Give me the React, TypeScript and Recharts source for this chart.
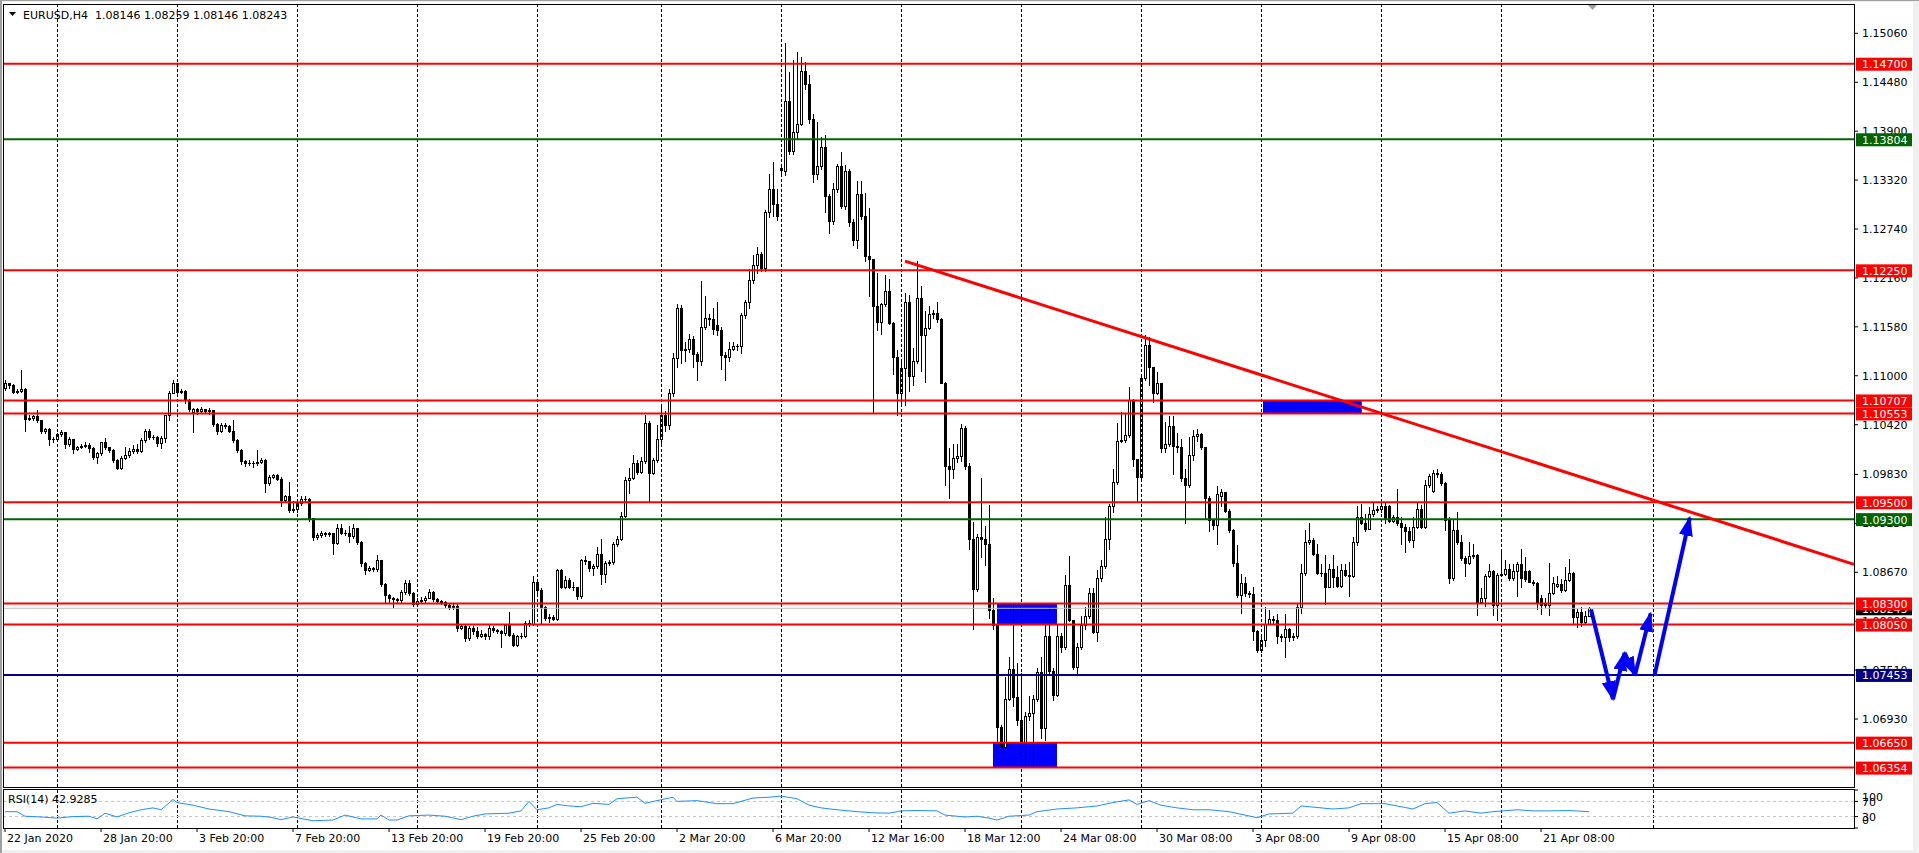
import React from 'react';
import { ComposedChart, Bar, Line, XAxis, YAxis, ReferenceLine, ReferenceArea } from 'recharts';

const FONT = "'DejaVu Sans', Tahoma, sans-serif";

// EURUSD H4 bars, prices kept as pips above 1.00000
const opens = [
  1085, 1091, 1089, 1081, 1082, 1084, 1049, 1050, 1052, 1047, 1034, 1037, 1025, 1025, 1031, 1033, 1019, 1025, 1013, 1015,
  1017, 1018, 1014, 1004, 1008, 1021, 1015, 1012, 1000, 991, 1003, 1006, 1011, 1013, 1011, 1024, 1035, 1027, 1027, 1020,
  1026, 1053, 1080, 1091, 1081, 1082, 1071, 1057, 1061, 1058, 1060, 1058, 1059, 1043, 1035, 1042, 1041, 1035, 1024, 1012,
  999, 996, 997, 997, 998, 1000, 973, 980, 982, 978, 953, 957, 941, 942, 949, 954, 954, 931, 909, 911,
  914, 912, 913, 902, 920, 914, 914, 910, 919, 903, 878, 870, 872, 871, 881, 853, 840, 837, 835, 834,
  844, 854, 843, 829, 833, 834, 836, 844, 835, 833, 832, 828, 826, 827, 801, 803, 789, 801, 797, 792,
  794, 791, 801, 799, 797, 795, 804, 793, 781, 791, 792, 807, 806, 856, 846, 826, 813, 814, 812, 870,
  850, 858, 850, 849, 839, 881, 880, 872, 874, 889, 865, 878, 879, 900, 906, 934, 976, 979, 996, 986,
  999, 1044, 985, 1000, 1025, 1054, 1042, 1079, 1121, 1180, 1130, 1132, 1144, 1126, 1118, 1158, 1169, 1167, 1160, 1154,
  1125, 1122, 1132, 1135, 1135, 1172, 1187, 1214, 1231, 1244, 1228, 1294, 1322, 1304, 1344, 1343, 1426, 1367, 1389, 1399,
  1461, 1446, 1405, 1339, 1349, 1371, 1313, 1284, 1321, 1349, 1301, 1343, 1282, 1261, 1316, 1290, 1242, 1238, 1183, 1164,
  1185, 1201, 1163, 1122, 1079, 1109, 1187, 1100, 1117, 1192, 1148, 1157, 1173, 1174, 1167, 1092, 993, 990, 1003, 1005, 1038,
  993, 907, 847, 909, 907, 900, 822, 804, 684, 660, 717, 752, 719, 692, 665, 697, 700, 717, 749, 682, 792,
  750, 721, 792, 778, 852, 811, 755, 778, 804, 815, 843, 796, 860, 874, 906, 945, 974, 1023, 1024, 1030,
  1071, 1001, 980, 1097, 1136, 1110, 1080, 1091, 1014, 1019, 1041, 1017, 1015, 979, 971, 1006, 1028, 1031, 1015, 955,
  929, 923, 958, 962, 940, 917, 878, 840, 854, 842, 841, 797, 775, 787, 806, 812, 810, 792, 790, 800,
  790, 792, 826, 866, 903, 905, 889, 866, 866, 850, 871, 861, 851, 870, 864, 863, 903, 933, 926, 918,
  936, 941, 942, 945, 946, 928, 933, 925, 921, 916, 905, 921, 942, 921, 970, 963, 985, 983, 973, 929, 860,
  917, 903, 884, 878, 886, 887, 832, 837, 862, 869, 828, 864, 865, 871, 860, 869, 877, 869, 869, 856,
  854, 836, 828, 828, 843, 851, 853, 846, 858, 866, 814, 820, 808, 814.6,
];
const closes = [
  1091, 1089, 1081, 1082, 1084, 1049, 1050, 1052, 1047, 1034, 1037, 1025, 1025, 1031, 1033, 1019, 1025, 1013, 1015, 1017,
  1018, 1014, 1004, 1008, 1021, 1015, 1012, 1000, 991, 1003, 1006, 1011, 1013, 1011, 1024, 1035, 1027, 1027, 1020, 1026,
  1053, 1080, 1091, 1081, 1082, 1071, 1061, 1061, 1058, 1060, 1058, 1059, 1043, 1035, 1042, 1041, 1035, 1024, 1012, 999,
  996, 997, 997, 998, 1000, 973, 980, 982, 978, 953, 957, 941, 942, 949, 954, 954, 931, 909, 911, 914,
  912, 913, 902, 920, 914, 914, 910, 919, 903, 878, 870, 872, 871, 881, 853, 840, 837, 835, 834, 844,
  854, 843, 829, 833, 834, 836, 844, 835, 833, 832, 828, 826, 827, 801, 803, 789, 801, 797, 792, 794,
  791, 801, 799, 797, 795, 804, 793, 781, 791, 792, 807, 806, 856, 846, 826, 813, 814, 812, 870, 850,
  858, 850, 849, 839, 881, 880, 872, 874, 889, 865, 878, 879, 900, 906, 934, 976, 979, 996, 986, 999,
  1044, 985, 1000, 1025, 1054, 1042, 1079, 1121, 1180, 1130, 1132, 1144, 1126, 1118, 1158, 1169, 1167, 1155, 1154, 1125,
  1122, 1132, 1135, 1135, 1172, 1187, 1214, 1231, 1244, 1228, 1294, 1322, 1304, 1289, 1346, 1426, 1367, 1389, 1399, 1461,
  1446, 1405, 1339, 1349, 1371, 1313, 1284, 1321, 1349, 1301, 1343, 1282, 1261, 1316, 1290, 1242, 1238, 1183, 1164, 1185,
  1201, 1163, 1122, 1079, 1109, 1187, 1100, 1117, 1192, 1148, 1157, 1173, 1174, 1167, 1092, 993, 990, 1003, 1005, 1038, 993,
  907, 847, 909, 907, 900, 822, 804, 684, 660, 717, 752, 719, 692, 665, 697, 700, 717, 749, 682, 792, 750,
  721, 792, 778, 852, 811, 755, 778, 804, 815, 843, 796, 860, 874, 906, 945, 974, 1023, 1024, 1030, 1071,
  1001, 980, 1097, 1136, 1110, 1080, 1091, 1014, 1019, 1041, 1017, 1015, 979, 971, 1006, 1028, 1031, 1015, 955, 929,
  923, 960, 962, 940, 917, 878, 840, 854, 842, 841, 797, 775, 787, 806, 812, 810, 792, 790, 800, 790,
  792, 826, 866, 903, 905, 889, 866, 866, 850, 871, 861, 851, 870, 864, 863, 903, 933, 926, 918, 936,
  941, 942, 945, 930, 928, 933, 925, 921, 916, 905, 921, 942, 921, 970, 981, 985, 983, 973, 929, 860, 917,
  903, 884, 878, 886, 887, 832, 837, 862, 869, 828, 864, 865, 871, 860, 869, 877, 860, 859, 856, 854,
  832, 828, 829, 843, 854, 853, 846, 858, 866, 814, 820, 808, 815, 824.3,
];
const highs = [
  1095, 1092, 1090, 1084, 1107, 1086, 1053, 1054, 1059, 1048, 1038, 1038, 1027, 1032, 1036, 1033, 1027, 1025, 1017, 1019,
  1022, 1020, 1015, 1010, 1022, 1026, 1016, 1013, 1001, 1005, 1015, 1014, 1018, 1019, 1026, 1037, 1037, 1030, 1028, 1028,
  1054, 1082, 1095, 1092, 1084, 1083, 1072, 1062, 1062, 1063, 1061, 1062, 1059, 1044, 1044, 1044, 1042, 1047, 1025, 1013,
  1000, 1000, 999, 1012, 1003, 1001, 982, 984, 984, 980, 959, 974, 951, 951, 957, 957, 955, 931, 913, 916,
  915, 915, 914, 924, 924, 917, 922, 924, 920, 904, 879, 874, 873, 887, 882, 854, 841, 838, 836, 846,
  858, 858, 844, 837, 838, 839, 847, 845, 836, 834, 833, 829, 830, 829, 806, 805, 803, 803, 802, 799,
  795, 805, 803, 800, 799, 805, 820, 795, 793, 795, 809, 810, 862, 859, 848, 827, 818, 816, 871, 871,
  862, 860, 856, 850, 883, 886, 880, 877, 897, 906, 880, 882, 903, 910, 938, 980, 991, 1006, 1000, 1004,
  1053, 1046, 1003, 1042, 1063, 1058, 1084, 1127, 1185, 1184, 1140, 1149, 1147, 1128, 1212, 1195, 1173, 1180, 1188, 1158,
  1128, 1140, 1140, 1138, 1175, 1190, 1227, 1243, 1253, 1247, 1297, 1339, 1353, 1322, 1348, 1495, 1460, 1474, 1484, 1478,
  1472, 1457, 1410, 1401, 1383, 1385, 1315, 1328, 1351, 1365, 1350, 1345, 1286, 1331, 1331, 1317, 1299, 1238, 1222, 1186,
  1220, 1215, 1164, 1131, 1120, 1198, 1196, 1133, 1236, 1207, 1177, 1183, 1178, 1187, 1168, 1093, 1014, 1019, 1019, 1043, 1040,
  997, 927, 912, 979, 922, 947, 836, 806, 686, 743, 767, 829, 760, 747, 701, 720, 721, 754, 767, 805, 826,
  753, 804, 795, 864, 886, 811, 783, 815, 826, 848, 848, 870, 881, 932, 948, 989, 1044, 1057, 1056, 1087,
  1072, 1001, 1098, 1148, 1146, 1110, 1104, 1091, 1045, 1052, 1052, 1032, 1025, 989, 1027, 1036, 1037, 1032, 1016, 957,
  930, 969, 966, 962, 942, 918, 899, 865, 861, 845, 850, 798, 790, 826, 822, 815, 818, 794, 818, 801,
  795, 830, 877, 917, 925, 908, 901, 877, 887, 877, 887, 875, 877, 877, 879, 909, 945, 948, 936, 944,
  949, 945, 949, 949, 947, 935, 966, 932, 924, 921, 932, 949, 947, 976, 984, 988, 990, 986, 974, 932, 930,
  938, 911, 886, 903, 901, 889, 848, 865, 877, 870, 866, 891, 881, 877, 877, 879, 895, 885, 870, 858,
  855, 840, 836, 878, 861, 862, 859, 873, 883, 867, 824, 826, 821, 825.9,
];
const lows = [
  1083, 1086, 1080, 1080, 1081, 1034, 1047, 1048, 1045, 1032, 1032, 1018, 1022, 1023, 1028, 1014, 1017, 1008, 1012, 1014,
  1015, 1010, 1001, 996, 1006, 1013, 1010, 998, 989, 990, 1001, 1004, 1009, 1009, 1010, 1021, 1025, 1025, 1017, 1014,
  1022, 1047, 1079, 1079, 1080, 1068, 1058, 1033, 1055, 1056, 1056, 1055, 1041, 1031, 1033, 1038, 1033, 1022, 1010, 995,
  993, 994, 992, 994, 996, 962, 970, 979, 976, 946, 950, 939, 938, 939, 947, 950, 928, 905, 907, 909,
  910, 910, 889, 900, 912, 911, 903, 908, 900, 874, 865, 869, 868, 869, 851, 830, 830, 826, 831, 832,
  841, 840, 827, 828, 830, 832, 836, 833, 831, 829, 826, 823, 824, 797, 800, 785, 787, 794, 789, 790,
  788, 788, 796, 795, 778, 793, 791, 779, 780, 789, 790, 803, 805, 843, 806, 810, 808, 810, 811, 848,
  848, 848, 846, 835, 837, 877, 869, 864, 872, 853, 855, 876, 877, 898, 905, 932, 961, 978, 983, 985,
  997, 952, 983, 998, 1020, 1034, 1037, 1076, 1110, 1115, 1118, 1128, 1110, 1095, 1113, 1155, 1160, 1150, 1148, 1108,
  1095, 1118, 1130, 1131, 1127, 1168, 1180, 1210, 1222, 1224, 1224, 1288, 1290, 1285, 1340, 1338, 1363, 1363, 1381, 1397,
  1440, 1400, 1330, 1333, 1345, 1294, 1269, 1280, 1318, 1299, 1298, 1278, 1255, 1252, 1286, 1236, 1194, 1056, 1154, 1150,
  1183, 1161, 1102, 1054, 1065, 1065, 1082, 1089, 1115, 1106, 1093, 1155, 1168, 1164, 1091, 971, 955, 979, 998, 999, 990,
  894, 800, 845, 885, 876, 813, 800, 653, 653, 651, 715, 708, 686, 651, 637, 692, 637, 714, 670, 668, 748,
  716, 720, 772, 776, 809, 752, 747, 776, 800, 813, 795, 785, 857, 872, 894, 938, 972, 1021, 1022, 1027,
  993, 951, 978, 1095, 1089, 1069, 1078, 1010, 1010, 1017, 984, 1010, 975, 925, 968, 1000, 1023, 1013, 931, 916,
  918, 900, 945, 938, 915, 874, 838, 819, 839, 838, 787, 773, 773, 779, 806, 806, 783, 786, 767, 786,
  787, 789, 819, 864, 901, 887, 865, 863, 829, 849, 850, 849, 849, 862, 839, 861, 899, 924, 916, 918,
  934, 939, 939, 926, 927, 927, 923, 901, 891, 903, 897, 919, 919, 919, 968, 962, 980, 970, 917, 854, 858,
  900, 882, 863, 877, 884, 816, 830, 827, 861, 816, 811, 862, 864, 858, 858, 839, 849, 857, 855, 852,
  823, 818, 826, 816, 841, 850, 844, 845, 857, 807, 802, 803, 806, 814.6,
];

// RSI(14), at bar positions
const rsiBars = [
  0, 3, 5, 9, 13, 17, 21, 23, 25, 28, 31, 34, 37, 39, 42, 43, 47, 51, 56, 60, 64, 66, 69, 72, 77, 82, 85, 89, 93, 94,
  96, 98, 101, 106, 110, 114, 117, 120, 126, 129, 131, 133, 136, 138, 141, 144, 147, 151, 153, 158, 160, 163, 167, 168,
  173, 178, 182, 187, 191, 194, 198, 201, 204, 208, 213, 217, 221, 224, 228, 233, 235, 240, 243, 246, 248, 251, 256, 258,
  263, 268, 273, 277, 281, 283, 286, 289, 293, 297, 301, 306, 310, 313, 316, 322, 324, 329, 332, 336, 339, 345, 347, 352,
  355, 358, 361, 365, 369, 372, 378, 382, 386, 391, 396,
];
const rsiValues = [
  43, 43, 31, 29, 26, 30, 31, 24, 39, 29, 40, 48, 53, 48, 75, 67, 60, 50, 43, 32, 31, 29, 22, 29, 19, 21, 34, 24, 24, 34,
  21, 21, 32, 34, 31, 22, 31, 37, 39, 45, 70, 48, 53, 62, 58, 56, 65, 62, 77, 81, 65, 72, 81, 70,
  72, 64, 64, 79, 81, 84, 77, 60, 53, 48, 43, 40, 39, 45, 46, 45, 34, 29, 31, 26, 21, 31, 34, 43,
  50, 53, 58, 67, 74, 62, 72, 60, 53, 48, 48, 43, 34, 27, 37, 39, 58, 53, 50, 53, 64, 64, 60, 50,
  64, 67, 39, 45, 39, 43, 48, 45, 45, 46, 42.93,
];

const priceTicks = [
  1.1506, 1.1448, 1.139, 1.1332, 1.1274, 1.1216, 1.1158, 1.11, 1.1042, 1.0983, 1.0925, 1.0867, 1.0809, 1.0751, 1.0693,
];
const redLevels = [1.147, 1.1225, 1.10707, 1.10553, 1.095, 1.083, 1.0805, 1.0665, 1.06354];
const greenLevels = [1.13804, 1.093];
const navyLevels = [1.07453];
const bidPrice = 1.08243;

const timeLabels = [
  '22 Jan 2020', '28 Jan 20:00', '3 Feb 20:00', '7 Feb 20:00', '13 Feb 20:00', '19 Feb 20:00', '25 Feb 20:00',
  '2 Mar 20:00', '6 Mar 20:00', '12 Mar 16:00', '18 Mar 12:00', '24 Mar 08:00', '30 Mar 08:00', '3 Apr 08:00',
  '9 Apr 08:00', '15 Apr 08:00', '21 Apr 08:00',
];
const timeLabelBars = [0, 24, 48, 72, 96, 120, 144, 168, 192, 216, 240, 264, 288, 312, 336, 360, 384];
const gridBars = [13.125, 43.125, 73.125, 103.125, 133.125, 164.125, 194.125, 224.125, 254.125, 284.125, 314.125, 344.125, 374.125, 412.125];

// drawn objects: boxes (bar from, bar to, price low, price high), trend ray, forecast arrows
const zoneBars = [[314.5, 339.2], [248, 263], [247, 263]];
const zonePrices = [[1.10553, 1.10707], [1.0805, 1.083], [1.06354, 1.0665]];
const trendBars = [225, 462.25];
const trendPrices = [1.1236, 1.08764];
const pathBars = [396.5, 402, 404.9, 407.5, 411.4];
const pathPips = [822.9, 716.5, 771.6, 745.3, 818.1];
const rayBars = [412.4, 421.2];
const rayPips = [745.3, 931.6];

const toPrice = (pips: number) => 1 + pips / 10000;

const candles = closes.map((c, i) => ({
  i,
  o: toPrice(opens[i]),
  h: toPrice(highs[i]),
  l: toPrice(lows[i]),
  c: toPrice(c),
  range: [toPrice(lows[i]), toPrice(highs[i])],
}));
const rsiData = rsiBars.map((b, k) => ({ i: b, v: rsiValues[k] }));

const segments: { i: number; v: number }[][] = [];
for (let k = 1; k < pathBars.length; k++) {
  segments.push([
    { i: pathBars[k - 1], v: toPrice(pathPips[k - 1]) },
    { i: pathBars[k], v: toPrice(pathPips[k]) },
  ]);
}
segments.push([
  { i: rayBars[0], v: toPrice(rayPips[0]) },
  { i: rayBars[1], v: toPrice(rayPips[1]) },
]);

const X_DOMAIN: [number, number] = [-0.25, 462.25];
const Y_DOMAIN: [number, number] = [1.06124, 1.15396];
const MAIN_MARGIN = { top: 5, right: 65, bottom: 3, left: 4 };

function Candle(props: any) {
  const { x, y, width, height, payload } = props;
  if (!payload || !Number.isFinite(x) || !Number.isFinite(y)) return null;
  const { o, c, h, l } = payload;
  const span = h - l || 1e-9;
  const at = (v: number) => y + ((h - v) / span) * height;
  const cx = Math.round(x + (Number.isFinite(width) ? width / 2 : 0));
  const top = Math.round(at(Math.max(o, c)));
  const bot = Math.round(at(Math.min(o, c)));
  const yh = Math.round(y);
  const yl = Math.round(y + height);
  const bull = c >= o;
  let body;
  if (bot - top < 1) {
    body = <line x1={cx - 1} x2={cx + 2} y1={top + 0.5} y2={top + 0.5} stroke="#000" />;
  } else if (bull) {
    body = <rect x={cx - 0.5} y={top + 0.5} width={2} height={bot - top} fill="#fff" stroke="#000" strokeWidth={1} />;
  } else {
    body = <rect x={cx - 1} y={top} width={3} height={bot - top + 1} fill="#000" />;
  }
  return (
    <g>
      <line x1={cx + 0.5} x2={cx + 0.5} y1={yh} y2={yl + 1} stroke="#000" strokeWidth={1} />
      {body}
    </g>
  );
}

function LevelTag(props: any) {
  const { viewBox, text, color } = props;
  if (!viewBox) return null;
  const x = viewBox.x + viewBox.width + 2;
  const y = viewBox.y;
  return (
    <g>
      <rect x={x} y={y - 6} width={56} height={13} fill={color} />
      <text x={x + 6} y={y + 4.5} fill="#fff" fontSize={11} fontFamily={FONT}>
        {text}
      </text>
    </g>
  );
}

function PriceTick(props: any) {
  const { x, y, payload } = props;
  return (
    <text x={x} y={y + 4} fill="#000" fontSize={11} fontFamily={FONT}>
      {Number(payload.value).toFixed(5)}
    </text>
  );
}

function RsiTick(props: any) {
  const { x, y, payload } = props;
  const v = payload.value;
  const shift = v === 100 ? 7 : v === 70 ? 1 : v === 0 ? -8 : 0;
  return (
    <text x={x} y={y + 4 + shift} fill="#000" fontSize={11} fontFamily={FONT}>
      {v}
    </text>
  );
}

function TimeTick(props: any) {
  const { x, y, index } = props;
  return (
    <text x={x + 2} y={y + 8} fill="#000" fontSize={11} fontFamily={FONT}>
      {timeLabels[index]}
    </text>
  );
}

export default function App() {
  return (
    <div
      style={{
        position: 'absolute',
        left: 0,
        top: 0,
        width: 1919,
        height: 853,
        background: '#F0F0F0',
        overflow: 'hidden',
      }}
    >
      <div style={{ position: 'absolute', left: 0, top: 0, width: 1919, height: 1, background: '#A0A0A0' }} />
      <div style={{ position: 'absolute', left: 0, top: 0, width: 2, height: 853, background: '#A0A0A0' }} />
      <div style={{ position: 'absolute', left: 2, top: 2, width: 1911, height: 848, background: '#fff' }} />
      <div style={{ position: 'absolute', left: 3, top: 4, width: 1852, height: 784, border: '1px solid #000', boxSizing: 'border-box' }} />
      <div style={{ position: 'absolute', left: 3, top: 789, width: 1852, height: 40, border: '1px solid #000', boxSizing: 'border-box' }} />

      <svg width={0} height={0} style={{ position: 'absolute' }}>
        <defs>
          <marker id="mtArrow" markerUnits="userSpaceOnUse" markerWidth={20} markerHeight={14} viewBox="0 0 20 14" refX={18} refY={7} orient="auto">
            <path d="M0,0 L20,7 L0,14 Z" fill="#0000FF" />
          </marker>
        </defs>
      </svg>

      {/* price scale drawn underneath so the level tags sit on top of it */}
      <div style={{ position: 'absolute', left: 0, top: 0 }}>
        <ComposedChart width={1919} height={790} data={candles} margin={{ ...MAIN_MARGIN, right: 0 }}>
          <XAxis dataKey="i" type="number" domain={X_DOMAIN} allowDataOverflow hide />
          <YAxis
            orientation="right"
            type="number"
            domain={Y_DOMAIN}
            allowDataOverflow
            ticks={priceTicks}
            interval={0}
            width={65}
            axisLine={false}
            tickLine={{ stroke: '#000' }}
            tickSize={4}
            tickMargin={4}
            tick={<PriceTick />}
          />
          <Line dataKey="c" stroke="transparent" dot={false} activeDot={false} isAnimationActive={false} />
        </ComposedChart>
      </div>

      <div style={{ position: 'absolute', left: 0, top: 0 }}>
        <ComposedChart width={1919} height={790} data={candles} margin={MAIN_MARGIN}>
          <XAxis dataKey="i" type="number" domain={X_DOMAIN} allowDataOverflow hide />
          <YAxis type="number" domain={Y_DOMAIN} allowDataOverflow hide />
          {gridBars.map((g) => (
            <ReferenceLine key={'g' + g} x={g} stroke="#000" strokeDasharray="3 2" strokeWidth={1} />
          ))}
          {zoneBars.map((zb, k) => (
            <ReferenceArea
              key={'z' + k}
              x1={zb[0]}
              x2={zb[1]}
              y1={zonePrices[k][0]}
              y2={zonePrices[k][1]}
              fill="#0000FF"
              fillOpacity={1}
              stroke="none"
            />
          ))}
          <Bar dataKey="range" barSize={3} shape={(p: any) => <Candle {...p} />} isAnimationActive={false} />
          <ReferenceLine y={bidPrice} stroke="#C0C0C0" strokeWidth={1} label={<LevelTag text={bidPrice.toFixed(5)} color="#000" />} />
          {redLevels.map((p) => (
            <ReferenceLine key={'r' + p} y={p} stroke="#FF0000" strokeWidth={2} label={<LevelTag text={p.toFixed(5)} color="#FF0000" />} />
          ))}
          {greenLevels.map((p) => (
            <ReferenceLine key={'gr' + p} y={p} stroke="#006400" strokeWidth={2} label={<LevelTag text={p.toFixed(5)} color="#006400" />} />
          ))}
          {navyLevels.map((p) => (
            <ReferenceLine key={'n' + p} y={p} stroke="#000080" strokeWidth={2} label={<LevelTag text={p.toFixed(5)} color="#000080" />} />
          ))}
          <ReferenceLine
            segment={[
              { x: trendBars[0], y: trendPrices[0] },
              { x: trendBars[1], y: trendPrices[1] },
            ]}
            stroke="#FF0000"
            strokeWidth={3}
          />
          {segments.map((seg, k) => (
            <Line
              key={'a' + k}
              data={seg}
              dataKey="v"
              type="linear"
              stroke="#0000FF"
              strokeWidth={4}
              dot={false}
              activeDot={false}
              markerEnd="url(#mtArrow)"
              isAnimationActive={false}
            />
          ))}
        </ComposedChart>
      </div>

      <div style={{ position: 'absolute', left: 0, top: 788 }}>
        <ComposedChart width={1919} height={65} data={rsiData} margin={{ top: 2, right: 0, bottom: 0, left: 4 }}>
          <XAxis
            dataKey="i"
            type="number"
            domain={X_DOMAIN}
            allowDataOverflow
            ticks={timeLabelBars}
            interval={0}
            height={25}
            axisLine={false}
            tickLine={{ stroke: '#000' }}
            tickSize={4}
            tickMargin={2}
            tick={<TimeTick />}
          />
          <YAxis
            orientation="right"
            type="number"
            domain={[0, 100]}
            ticks={[0, 30, 70, 100]}
            interval={0}
            width={65}
            axisLine={false}
            tickLine={{ stroke: '#000' }}
            tickSize={4}
            tickMargin={4}
            tick={<RsiTick />}
          />
          {gridBars.map((g) => (
            <ReferenceLine key={'rg' + g} x={g} stroke="#000" strokeDasharray="3 2" strokeWidth={1} />
          ))}
          <ReferenceLine y={70} stroke="#C0C0C0" strokeDasharray="3 3" />
          <ReferenceLine y={30} stroke="#C0C0C0" strokeDasharray="3 3" />
          <Line dataKey="v" type="linear" stroke="#1E90FF" strokeWidth={1} dot={false} activeDot={false} isAnimationActive={false} />
        </ComposedChart>
      </div>

      <svg width={1919} height={853} style={{ position: 'absolute', left: 0, top: 0, pointerEvents: 'none' }}>
        <polygon points="9,12 16,12 12.5,16" fill="#000" />
        <text x={23} y={19} fontSize={11} fontFamily={FONT} fill="#000" xmlSpace="preserve">
          {'EURUSD,H4  1.08146 1.08259 1.08146 1.08243'}
        </text>
        <polygon points="1588,5 1597,5 1592.5,10" fill="#A0A0A0" />
        <text x={8} y={803} fontSize={11} fontFamily={FONT} fill="#000">
          RSI(14) 42.9285
        </text>
      </svg>
    </div>
  );
}
